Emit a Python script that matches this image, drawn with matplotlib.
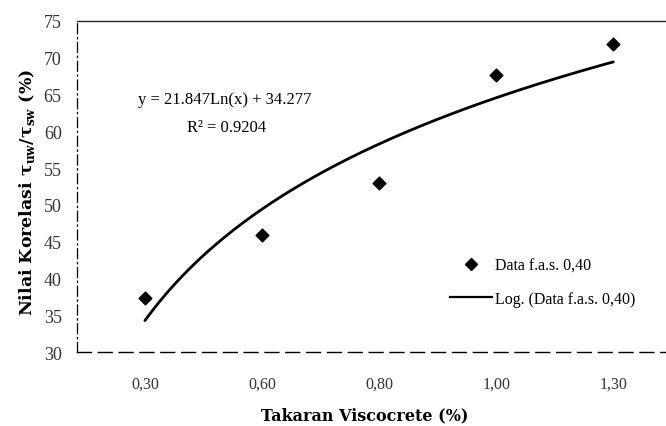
import numpy as np
import matplotlib
matplotlib.use("Agg")
import matplotlib.pyplot as plt
from matplotlib.lines import Line2D

plt.rcParams['font.family'] = ['Liberation Serif', 'DejaVu Serif']
plt.rcParams['mathtext.fontset'] = 'custom'
plt.rcParams['mathtext.rm'] = 'DejaVu Serif'
plt.rcParams['mathtext.bf'] = 'DejaVu Serif:bold'

categories = ["0,30", "0,60", "0,80", "1,00", "1,30"]
values = [37.3, 45.9, 53.0, 67.6, 71.9]
trend_slope = 21.847
trend_intercept = 34.277
r_squared = 0.9204
y_ticks = [30, 35, 40, 45, 50, 55, 60, 65, 70, 75]

W, H = 666, 427
fig = plt.figure(figsize=(W / 100, H / 100), dpi=100)
ax = fig.add_axes([77 / W, 1 - 353 / H, (666 - 77) / W, (353 - 22) / H])

pos = np.arange(1, len(categories) + 1)
xs = np.linspace(1, len(categories), 200)
ax.plot(xs, trend_slope * np.log(xs) + trend_intercept, color='black', lw=2.0,
        solid_capstyle='round', zorder=2)
ax.scatter(pos, values, marker='D', s=42, color='black', zorder=3)

ax.set_xlim(0.42, 5.45)
ax.set_ylim(30, 75)
ax.set_yticks(y_ticks)
ax.set_yticklabels([str(v) for v in y_ticks], fontsize=13, color='#333333')
ax.set_xticks(pos)
ax.set_xticklabels(categories, fontsize=11.5, color='#333333')
ax.tick_params(axis='both', length=0)
ax.tick_params(axis='x', pad=17)
ax.tick_params(axis='y', pad=11)

ax.spines['right'].set_visible(False)
ax.spines['top'].set_color('#222222')
ax.spines['top'].set_linewidth(1.0)
ax.spines['left'].set_linestyle((0, (8, 3, 1, 3)))
ax.spines['left'].set_linewidth(0.9)
ax.spines['bottom'].set_linestyle((0, (10, 5)))
ax.spines['bottom'].set_linewidth(1.0)

ax.set_xlabel("Takaran Viscocrete (%)", fontsize=11.5, fontweight='bold',
              family='DejaVu Serif', va='center')
ax.xaxis.set_label_coords((365 - 77) / (666 - 77), -(416 - 353) / (353 - 22))
ax.set_ylabel(r"Nilai Korelasi τ$_{\mathbf{uw}}$/τ$_{\mathbf{sw}}$ (%)", fontsize=12.5,
              fontweight='bold', family='DejaVu Serif', va='center')
ax.yaxis.set_label_coords(-(77 - 27) / (666 - 77), (353 - 192) / (353 - 22))

fig.text(225 / W, 1 - 100 / H, f"y = {trend_slope}Ln(x) + {trend_intercept}",
         fontsize=12, ha='center', va='center')
fig.text(227 / W, 1 - 128 / H, f"R² = {r_squared}", fontsize=12, ha='center', va='center')

handles = [
    Line2D([], [], marker='D', color='black', linestyle='none', markersize=6),
    Line2D([], [], color='black', lw=1.6),
]
labels = ["Data f.a.s. 0,40", "Log. (Data f.a.s. 0,40)"]
fig.legend(handles, labels, loc='upper left', bbox_to_anchor=(436 / W, 1 - 244 / H),
           frameon=False, fontsize=11.5, handlelength=2.6, handletextpad=0.2,
           labelspacing=1.1)

fig.savefig("out.png", dpi=100)
